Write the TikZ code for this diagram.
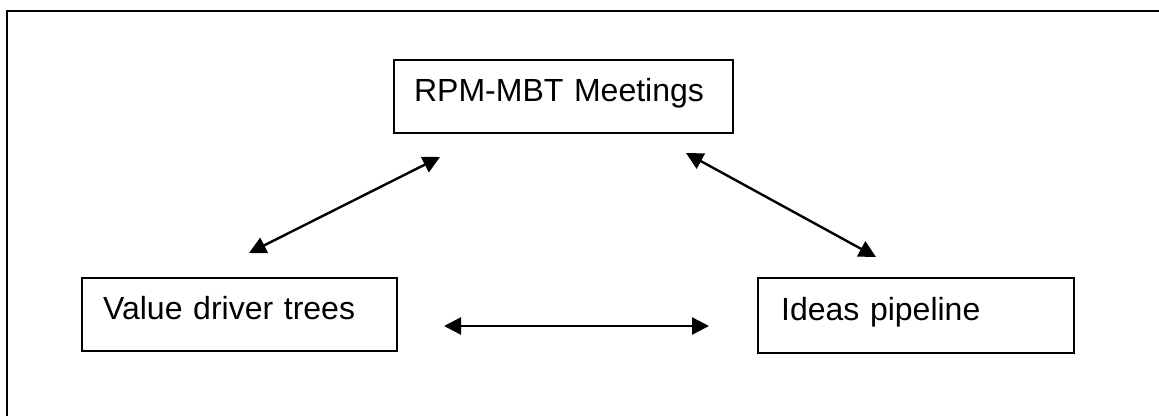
\documentclass[tikz,border=0pt]{standalone}
\usepackage{fontspec}
\setmainfont{Liberation Sans}
\usetikzlibrary{arrows.meta}
\begin{document}
\begin{tikzpicture}[x=1pt,y=-1pt,
  labelbox/.style={draw=black, line width=2.2pt, anchor=north west,
    inner ysep=0pt, align=left, font=\fontsize{32}{38}\selectfont,
    text height=41pt, text depth=32pt},
  biarrow/.style={line width=2.4pt, {Triangle[length=17pt,width=17pt]}-{Triangle[length=17pt,width=17pt]}}]
  % page area
  \useasboundingbox (0,0) rectangle (1159,416);
  % surrounding frame, open at the right and bottom
  \draw[line width=2.4pt] (7,416) -- (7,11) -- (1159,11);
  % boxes
  \node[labelbox, inner xsep=20pt, text width=299pt] (rpm) at (393,59) {RPM-MBT Meetings};
  \node[labelbox, inner xsep=21pt, text width=273pt] (vdt) at (81,277) {Value driver trees};
  \node[labelbox, inner xsep=23pt, text width=270pt, text height=42pt, text depth=33pt] (ideas) at (757,277) {Ideas pipeline};
  % arrow ends
  \coordinate (rpmL) at (440,157);
  \coordinate (vdtT) at (249,253);
  \coordinate (rpmR) at (686,153);
  \coordinate (ideasT) at (876,257);
  \coordinate (vdtR) at (444,326);
  \coordinate (ideasL) at (709,326);
  % connectors
  \draw[biarrow] (vdtT) -- (rpmL);
  \draw[biarrow] (rpmR) -- (ideasT);
  \draw[biarrow] (vdtR) -- (ideasL);
\end{tikzpicture}
\end{document}
